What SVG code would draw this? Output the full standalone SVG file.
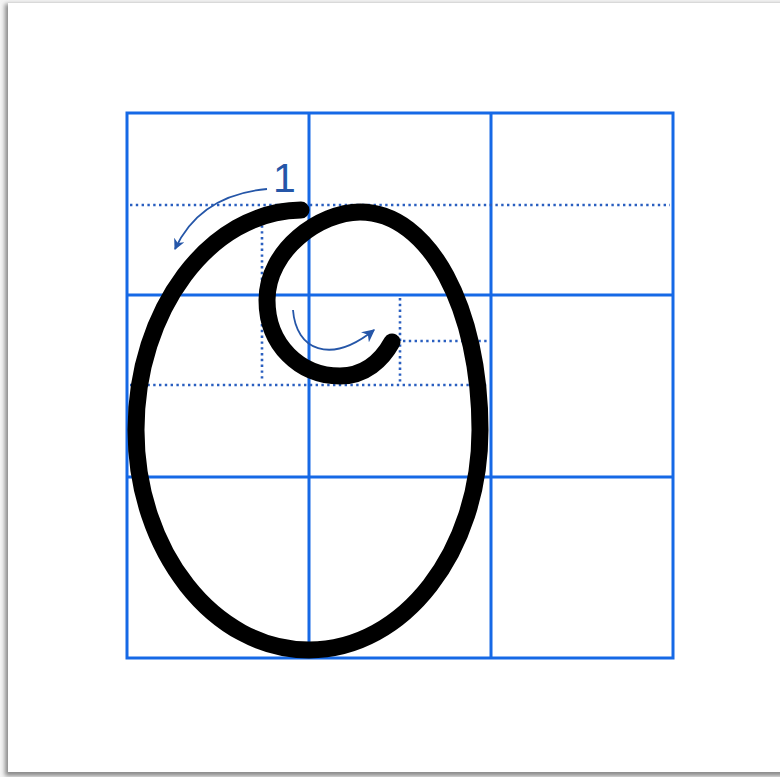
<svg xmlns="http://www.w3.org/2000/svg" width="780" height="777" viewBox="0 0 780 777">
<style>
.grid{fill:none;stroke:#1669e6;stroke-width:3}
.dot{fill:none;stroke:#2a5fc0;stroke-width:2.6;stroke-dasharray:2.4 3.4}
.stroke{fill:none;stroke:#000;stroke-width:17;stroke-linecap:round;stroke-linejoin:round}
.arr{fill:none;stroke:#2556a8;stroke-width:1.8}
.lbl{font-family:"Liberation Sans",Arial,sans-serif;font-size:41px;fill:#2556a8}
</style>
<defs>
<filter id="sh" x="-5%" y="-5%" width="110%" height="110%">
<feGaussianBlur stdDeviation="2"/>
</filter>
<marker id="ah" viewBox="0 0 10 10" refX="9" refY="5" markerWidth="11" markerHeight="11" markerUnits="userSpaceOnUse" orient="auto">
<path d="M0,0 L10,5 L0,10 L3,5 Z" fill="#2556a8"/>
</marker>
<marker id="ah2" viewBox="0 0 10 10" refX="9" refY="5" markerWidth="13" markerHeight="13" markerUnits="userSpaceOnUse" orient="auto">
<path d="M0,0 L10,5 L0,10 L3,5 Z" fill="#2556a8"/>
</marker>
</defs>
<rect width="780" height="777" fill="#f4f4f4"/>
<rect x="5" y="4" width="790" height="772" fill="#8a8a8a" filter="url(#sh)"/>
<rect x="8" y="3" width="790" height="769" fill="#ffffff"/>
<g id="grid">
<rect class="grid" x="127" y="113" width="546" height="545"/>
<line class="grid" x1="309" y1="113" x2="309" y2="658"/>
<line class="grid" x1="491" y1="113" x2="491" y2="658"/>
<line class="grid" x1="127" y1="295" x2="673" y2="295"/>
<line class="grid" x1="127" y1="477" x2="673" y2="477"/>
</g>
<g id="guides">
<line class="dot" x1="130" y1="205" x2="670" y2="205"/>
<line class="dot" x1="130" y1="385" x2="488" y2="385"/>
<line class="dot" x1="262" y1="208" x2="262" y2="382"/>
<line class="dot" x1="400" y1="298" x2="400" y2="382"/>
<line class="dot" x1="403" y1="341" x2="488" y2="341"/>
</g>
<g id="letter">
<path class="stroke" d="M301,210 C210,211 136,310 136,430 C136,551 214,650 309,650 C404,650 480,551 480,430 C480,310 430,212 360,212 C320,212 267,250 267,300 C267,345 300,376 340,376 C365,376 382,360 392,342"/>
</g>
<g id="arrows">
<path class="arr" d="M267,189 Q200,195 175,249" marker-end="url(#ah)"/>
<path class="arr" d="M293,310 C296,350 330,365 374,330" marker-end="url(#ah2)"/>
<text class="lbl" x="273" y="192">1</text>
</g>
</svg>
